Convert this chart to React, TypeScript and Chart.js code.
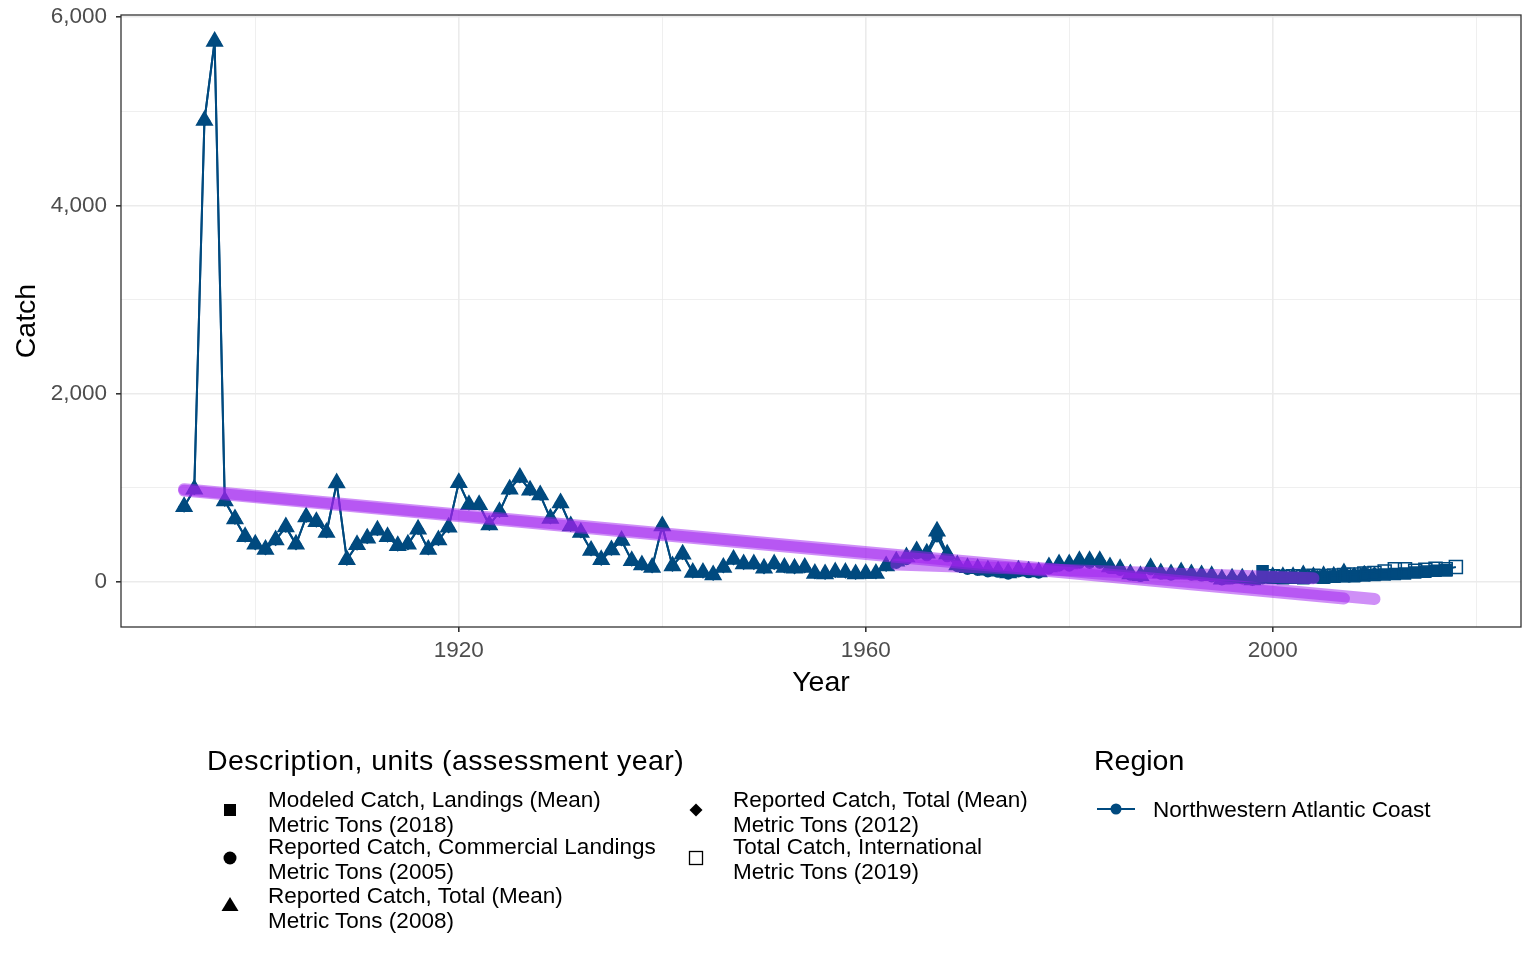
import React, { useEffect, useRef } from 'react';
import Chart from 'chart.js/auto';

// Reported Catch, Total (Mean) - Metric Tons (2008), yearly from 1893
const triangleStart = 1893;
const triangleCatch = [
  800, 985, 4900, 5740, 860, 670, 480, 400, 345, 445,
  585, 400, 690, 640, 525, 1050, 235, 395, 465, 550,
  480, 385, 400, 560, 345, 445, 580, 1055, 820, 820,
  605, 745, 985, 1110, 975, 925, 675, 840, 595, 525,
  335, 235, 340, 440, 225, 180, 155, 595, 170, 295,
  100, 100, 75, 155, 240, 190, 190, 145, 190, 155,
  145, 155, 90, 85, 105, 100, 85, 90, 90, 170,
  220, 265, 330, 305, 540, 295, 180, 150, 140, 125,
  115, 95, 125, 115, 105, 160, 190, 190, 225, 225,
  225, 160, 140, 85, 65, 150, 95, 85, 105, 85,
  75, 65, 30, 40, 40, 20, 40, 55, 55, 55,
  75, 55, 65, 60, 95,
];

// Reported Catch, Total (Mean) - Metric Tons (2012): same record, extended to 2010
const diamondTail = [95, 115, 100];

// Reported Catch, Commercial Landings - Metric Tons (2005), from 1963
const circleStart = 1963;
const circleCatch = [
  200, 240, 300, 280, 480, 270, 165, 135, 125, 110,
  105, 85, 110, 100, 95, 140, 170, 170, 200, 200,
  200, 145, 125, 75, 60, 130, 85, 75, 90, 75,
  65, 55, 25, 35, 35, 20, 35, 45, 45, 45,
  60, 45,
];

// Modeled Catch, Landings (Mean) - Metric Tons (2018), from 1999
const squareStart = 1999;
const squareCatch = [
  115, 45, 40, 45, 40, 50, 45, 55, 60, 60,
  70, 75, 80, 85, 90, 100, 110, 120, 125,
];

// Total Catch, International - Metric Tons (2019), from 2000
const openSquareStart = 2000;
const openSquareCatch = [
  60, 55, 60, 55, 65, 60, 70, 75, 80, 90,
  95, 110, 135, 135, 120, 130, 140, 135, 160,
];

// trend lines (end points)
const trendYears2008 = [1893, 2007];
const trendCatch2008 = [970, -175];
const trendYears2012 = [1893, 2010];
const trendCatch2012 = [985, -180];
const trendYears2005 = [1963, 2004];
const trendCatch2005 = [185, 40];

const xGridYears = [1900, 1920, 1940, 1960, 1980, 2000, 2020];
const xLabelYears = [1920, 1960, 2000];
const yGridValues = [0, 1000, 2000, 3000, 4000, 5000, 6000];
const yLabelValues = [0, 2000, 4000, 6000];

const BLUE = '#004a7f';
const PURPLE = 'rgba(160, 32, 240, 0.5)';
const FONT = '"Liberation Sans", Arial, sans-serif';

const toPoints = (start: number, vals: number[]) => vals.map((v, i) => ({ x: start + i, y: v }));
const pairPoints = (xs: number[], ys: number[]) => xs.map((x, i) => ({ x, y: ys[i] }));

const panelBorder = {
  id: 'panelBorder',
  afterDatasetsDraw(chart: any) {
    const { ctx, chartArea: a } = chart;
    ctx.save();
    ctx.strokeStyle = '#333333';
    ctx.lineWidth = 1.3;
    ctx.strokeRect(a.left, a.top, a.right - a.left, a.bottom - a.top);
    ctx.restore();
  },
};

const CatchChart: React.FC = () => {
  const chartRef = useRef<HTMLCanvasElement | null>(null);
  const chartInstance = useRef<Chart | null>(null);

  useEffect(() => {
    if (!chartRef.current) return;
    if (chartInstance.current) chartInstance.current.destroy();
    const ctx = chartRef.current.getContext('2d');
    if (!ctx) return;

    const trend = (data: any[]) => ({
      data,
      showLine: true,
      borderColor: PURPLE,
      borderWidth: 12,
      borderCapStyle: 'round' as const,
      pointRadius: 0,
      order: 0,
    });
    const series = (data: any[], style: string, radius: number, fill: string, order: number) => ({
      data,
      showLine: true,
      borderColor: BLUE,
      borderWidth: 2,
      pointStyle: style,
      pointRadius: radius,
      pointBackgroundColor: fill,
      pointBorderColor: BLUE,
      pointBorderWidth: 1.5,
      order,
    });

    chartInstance.current = new Chart(ctx, {
      type: 'scatter',
      data: {
        datasets: [
          trend(pairPoints(trendYears2008, trendCatch2008)),
          trend(pairPoints(trendYears2012, trendCatch2012)),
          trend(pairPoints(trendYears2005, trendCatch2005)),
          series(toPoints(openSquareStart, openSquareCatch), 'rect', 9.2, 'rgba(0,0,0,0)', 1),
          series(toPoints(squareStart, squareCatch), 'rect', 7.8, BLUE, 2),
          series(toPoints(triangleStart, triangleCatch), 'triangle', 9, BLUE, 3),
          series(toPoints(triangleStart, triangleCatch.concat(diamondTail)), 'rectRot', 5, BLUE, 4),
          series(toPoints(circleStart, circleCatch), 'circle', 5, BLUE, 5),
        ] as any,
      },
      options: {
        animation: false,
        responsive: true,
        maintainAspectRatio: false,
        events: [],
        layout: { padding: { top: 15, right: 15, left: 0, bottom: 0 } },
        plugins: { legend: { display: false }, tooltip: { enabled: false } },
        scales: {
          x: {
            type: 'linear',
            min: 1886.8,
            max: 2024.4,
            afterBuildTicks: (s: any) => { s.ticks = xGridYears.map((v) => ({ value: v })); },
            afterFit: (s: any) => { s.height = 73; s.paddingLeft = 0; s.paddingRight = 0; },
            border: { display: false },
            grid: {
              color: '#ebebeb',
              lineWidth: (c: any) => (xLabelYears.includes(c.tick?.value) ? 1.6 : 0.8),
              tickColor: (c: any) => (xLabelYears.includes(c.tick?.value) ? '#333333' : 'rgba(0,0,0,0)'),
              tickLength: 5,
            },
            ticks: {
              autoSkip: false,
              maxRotation: 0,
              padding: 5.5,
              color: '#4d4d4d',
              font: { family: FONT, size: 22.5 },
              callback: (v: any) => (xLabelYears.includes(v) ? String(v) : ''),
            },
            title: {
              display: true,
              text: 'Year',
              color: '#000000',
              font: { family: FONT, size: 28.5 },
              padding: { top: 0, bottom: 0 },
            },
          },
          y: {
            type: 'linear',
            min: -478,
            max: 6021,
            afterBuildTicks: (s: any) => { s.ticks = yGridValues.map((v) => ({ value: v })); },
            afterFit: (s: any) => { s.width = 121; s.paddingTop = 0; s.paddingBottom = 0; },
            border: { display: false },
            grid: {
              color: '#ebebeb',
              lineWidth: (c: any) => (yLabelValues.includes(c.tick?.value) ? 1.6 : 0.8),
              tickColor: (c: any) => (yLabelValues.includes(c.tick?.value) ? '#333333' : 'rgba(0,0,0,0)'),
              tickLength: 5,
            },
            ticks: {
              autoSkip: false,
              padding: 9,
              color: '#4d4d4d',
              font: { family: FONT, size: 22.5 },
              callback: (v: any) => (yLabelValues.includes(v) ? Number(v).toLocaleString('en-US') : ''),
            },
            title: {
              display: true,
              text: 'Catch',
              color: '#000000',
              font: { family: FONT, size: 28.5 },
              padding: { top: 10, bottom: 0 },
            },
          },
        },
      },
      plugins: [panelBorder],
    });

    return () => {
      if (chartInstance.current) {
        chartInstance.current.destroy();
        chartInstance.current = null;
      }
    };
  }, []);

  return (
    <div style={{ position: 'absolute', left: 0, top: 0, width: 1536, height: 700 }}>
      <canvas ref={chartRef} />
    </div>
  );
};

const Symbol: React.FC<{ kind: string; x: number; y: number }> = ({ kind, x, y }) => {
  const s = 20;
  let shape: React.ReactNode = null;
  if (kind === 'square') shape = <rect x={4} y={4} width={12} height={12} fill="#000" />;
  if (kind === 'circle') shape = <circle cx={10} cy={10} r={6.5} fill="#000" />;
  if (kind === 'triangle') shape = <polygon points="10,2 18.5,16 1.5,16" fill="#000" />;
  if (kind === 'diamond') shape = <polygon points="10,3.5 16.5,10 10,16.5 3.5,10" fill="#000" />;
  if (kind === 'open') shape = <rect x={3.5} y={3.5} width={13} height={13} fill="none" stroke="#000" strokeWidth={1.3} />;
  return (
    <svg width={s} height={s} style={{ position: 'absolute', left: x - s / 2, top: y - s / 2 }}>
      {shape}
    </svg>
  );
};

const textStyle = (x: number, top: number): React.CSSProperties => ({
  position: 'absolute',
  left: x,
  top,
  fontSize: 22.5,
  lineHeight: '24.5px',
  color: '#000',
  whiteSpace: 'nowrap',
});

const Item: React.FC<{ x: number; top: number; lines: string[] }> = ({ x, top, lines }) => (
  <div style={textStyle(x, top)}>
    {lines.map((l) => (
      <div key={l}>{l}</div>
    ))}
  </div>
);

const Legend: React.FC = () => (
  <div style={{ position: 'absolute', left: 0, top: 0, width: 1536, height: 960, fontFamily: FONT }}>
    <div style={{ position: 'absolute', left: 207, top: 743, fontSize: 28.5, lineHeight: '34px', letterSpacing: '0.45px', whiteSpace: 'nowrap' }}>
      Description, units (assessment year)
    </div>
    <Symbol kind="square" x={230} y={810} />
    <Item x={268} top={788} lines={['Modeled Catch, Landings (Mean)', 'Metric Tons (2018)']} />
    <Symbol kind="circle" x={230} y={858} />
    <Item x={268} top={835} lines={['Reported Catch, Commercial Landings', 'Metric Tons (2005)']} />
    <Symbol kind="triangle" x={230} y={905} />
    <Item x={268} top={884} lines={['Reported Catch, Total (Mean)', 'Metric Tons (2008)']} />
    <Symbol kind="diamond" x={696} y={810} />
    <Item x={733} top={788} lines={['Reported Catch, Total (Mean)', 'Metric Tons (2012)']} />
    <Symbol kind="open" x={696} y={858} />
    <Item x={733} top={835} lines={['Total Catch, International', 'Metric Tons (2019)']} />

    <div style={{ position: 'absolute', left: 1094, top: 743, fontSize: 28.5, lineHeight: '34px' }}>Region</div>
    <svg width={44} height={20} style={{ position: 'absolute', left: 1095, top: 799 }}>
      <line x1={2} y1={10} x2={40} y2={10} stroke={BLUE} strokeWidth={2} />
      <circle cx={21} cy={10} r={5.5} fill={BLUE} />
    </svg>
    <div style={textStyle(1153, 798)}>Northwestern Atlantic Coast</div>
  </div>
);

const App: React.FC = () => (
  <div style={{ position: 'absolute', left: 0, top: 0, width: 1536, height: 960, background: '#fff', fontFamily: FONT }}>
    <CatchChart />
    <Legend />
  </div>
);

export default App;
